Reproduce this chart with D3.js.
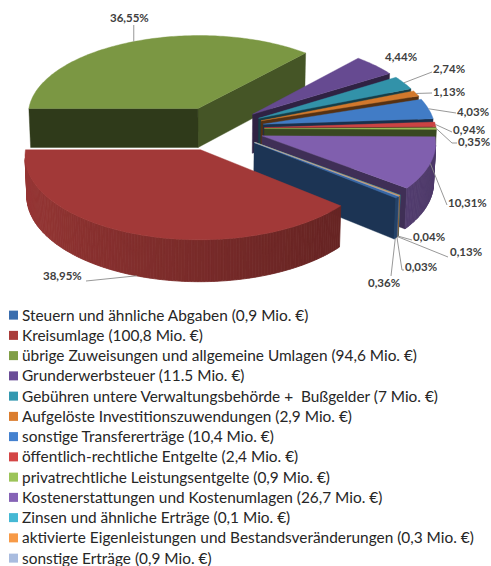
<!DOCTYPE html>
<html><head><meta charset="utf-8">
<script src="https://cdn.jsdelivr.net/npm/d3@7"></script>
<style>
body{margin:0;background:#fff}
svg{display:block}
text{font-family:Lato,"Open Sans",sans-serif}
</style>
</head><body>
<svg id="c" width="491" height="566"></svg>
<script>
// ---------- data ----------
const categories = [
  "Steuern und ähnliche Abgaben",
  "Kreisumlage",
  "übrige Zuweisungen und allgemeine Umlagen",
  "Grunderwerbsteuer",
  "Gebühren untere Verwaltungsbehörde +  Bußgelder",
  "Aufgelöste Investitionszuwendungen",
  "sonstige Transfererträge",
  "öffentlich-rechtliche Entgelte",
  "privatrechtliche Leistungsentgelte",
  "Kostenerstattungen und Kostenumlagen",
  "Zinsen und ähnliche Erträge",
  "aktivierte Eigenleistungen und Bestandsveränderungen",
  "sonstige Erträge"
];
const valueTexts = ["0,9","100,8","94,6","11.5","7","2,9","10,4","2,4","0,9","26,7","0,1","0,3","0,9"];
const percents = [0.36, 38.95, 36.55, 4.44, 2.74, 1.13, 4.03, 0.94, 0.35, 10.31, 0.04, 0.13, 0.03];

// ---------- styles ----------
const palette = ["#3A6DAE","#A93C3A","#809E46","#6A4D97","#3498B0","#DB7D2E","#4481CF",
                 "#D44646","#9CC459","#8663B6","#45B8D4","#F79A47","#A9BCDF"];
// label layout: text position + leader path end points + anchor on slice (top/bottom rim)
const labelLayout = [
  {x:368,y:283,rim:"bottom",path:[[391,276]]},
  {x:43,y:276,rim:"bottom",path:[[86,281]]},
  {x:110,y:18,rim:"top",path:[[null,25]]},
  {x:385,y:57,rim:"top",path:[]},
  {x:433,y:69,rim:"top",path:[[432,72]]},
  {x:433,y:92,rim:"top",path:[[432,93]]},
  {x:457,y:112,rim:"top",path:[[456,113]]},
  {x:453,y:129.5,rim:"top",path:[[452,132]]},
  {x:458,y:142,rim:"top",path:[[452,143],[457,143]]},
  {x:448,y:203,rim:"top",path:[[447,205]]},
  {x:413,y:237,rim:"bottom",path:[[412,240]]},
  {x:450,y:252,rim:"bottom",path:[[448,257]]},
  {x:405,y:267,rim:"bottom",path:[[402,270],[404,270]]}
];

const svg = d3.select("#c");
const color = d3.scaleOrdinal().domain(d3.range(categories.length)).range(palette);

// ---------- 3D pie geometry ----------
const cx = 217, cy = 128.5, R = 172, tilt = 28*Math.PI/180, D = 2200, depth = 45, explode = 0.275;
const sa = Math.sin(tilt), ca = Math.cos(tilt);
const camY = -D*ca;
function proj(X, Y, Hh){
  const dist = D + Y*ca - Hh*sa;
  const f = D/dist;
  return [cx + X*f, cy + (-Y*sa - Hh*ca)*f];
}
const total = d3.sum(percents);
const start = 1.5*Math.PI - 2*Math.PI*(percents[0]+percents[1])/total;
const arcs = d3.pie().sort(null).value(d=>d).startAngle(start).endAngle(start+2*Math.PI)(percents);

const slices = arcs.map((a,i)=>{
  const t0 = Math.PI/2 - a.endAngle, t1 = Math.PI/2 - a.startAngle;
  const mid = (t0+t1)/2;
  return {i, t0, t1, mid, ox: explode*R*Math.cos(mid), oy: explode*R*Math.sin(mid), color: color(i)};
});

const sides = [], tops = [];
slices.forEach(s=>{
  const P = (t,r,h)=>proj(s.ox + r*R*Math.cos(t), s.oy + r*R*Math.sin(t), h);
  const n = Math.max(2, Math.ceil((s.t1-s.t0)/(Math.PI/180))+1);
  const ts = d3.range(n).map(k=>s.t0 + (s.t1-s.t0)*k/(n-1));
  // top
  tops.push({pts:[P(0,0,0), ...ts.map(t=>P(t,1,0))], fill: d3.color(s.color).darker(0.12).formatHex()});
  // cut faces
  [[s.t0,-1],[s.t1,1]].forEach(([t,sg])=>{
    const nx = Math.cos(t+sg*Math.PI/2), ny = Math.sin(t+sg*Math.PI/2);
    const mx = s.ox + 0.5*R*Math.cos(t), my = s.oy + 0.5*R*Math.sin(t);
    if (nx*(0-mx) + ny*(camY-my) <= 0) return;
    const fr = Math.max(0, -ny);
    const k = 0.5 + 2.3*Math.pow(fr, 1.5);
    sides.push({key: my, pts:[P(t,0,0),P(t,1,0),P(t,1,-depth),P(t,0,-depth)],
                fill: d3.color(s.color).darker(k).formatHex()});
  });
  // outer wall
  for (let k=0;k<n-1;k++){
    const ta = ts[k], tb = ts[k+1], tm = (ta+tb)/2;
    const px = s.ox + R*Math.cos(tm), py = s.oy + R*Math.sin(tm);
    if (Math.cos(tm)*(0-px) + Math.sin(tm)*(camY-py) <= 0) continue;
    const kk = 0.35 + 0.6*(1+Math.cos(tm));
    sides.push({key: py, wall:true, pts:[P(ta,1,0),P(tb,1,0),P(tb,1,-depth),P(ta,1,-depth)],
                fill: d3.color(s.color).darker(kk).formatHex()});
  }
  s.P = P;
});
sides.sort((a,b)=>b.key-a.key);

const line = d3.line().curve(d3.curveLinearClosed);
const gPie = svg.append("g");
gPie.selectAll("path.side").data(sides).join("path").attr("class","side")
  .attr("d", d=>line(d.pts)).attr("fill", d=>d.fill)
  .attr("stroke", d=>d.fill).attr("stroke-width", d=>d.wall?0.8:0.4)
  .attr("stroke-linejoin","round");
gPie.selectAll("path.top").data(tops).join("path").attr("class","top")
  .attr("d", d=>line(d.pts)).attr("fill", d=>d.fill)
  .attr("stroke", d=>d.fill).attr("stroke-width",0.4).attr("stroke-linejoin","round");

// ---------- labels ----------
const fmt = v => d3.format(".2f")(v).replace(".", ",") + "%";
const gLab = svg.append("g");
slices.forEach((s,i)=>{
  const L = labelLayout[i];
  const a = s.P(s.mid, 1, L.rim==="top" ? 0 : -depth);
  if (L.path.length){
    const pts = [a, ...L.path.map(p=>[p[0]===null ? a[0] : p[0], p[1]])];
    gLab.append("path").attr("d", d3.line()(pts)).attr("fill","none")
      .attr("stroke","#8c8c8c").attr("stroke-width",0.9);
  }
  gLab.append("text").attr("x", L.x).attr("y", L.y).attr("dy","0.35em")
    .attr("font-size", 11.5).attr("font-weight","bold").attr("fill","#404040")
    .text(fmt(percents[i]));
});

// ---------- legend ----------
const ly = d3.scaleBand().domain(d3.range(categories.length)).range([305, 305+13*20.25]);
const gLeg = svg.append("g");
const items = gLeg.selectAll("g").data(categories).join("g")
  .attr("transform", (d,i)=>`translate(0,${ly(i)+ly.bandwidth()/2})`);
items.append("rect").attr("x",9).attr("y",-4.5).attr("width",9).attr("height",9)
  .attr("fill",(d,i)=>color(i));
items.append("text").attr("x",22).attr("dy","0.35em").attr("font-size",15.4).attr("fill","#262626")
  .style("white-space","pre")
  .text((d,i)=>`${d} (${valueTexts[i]} Mio. €)`);
</script>
</body></html>
